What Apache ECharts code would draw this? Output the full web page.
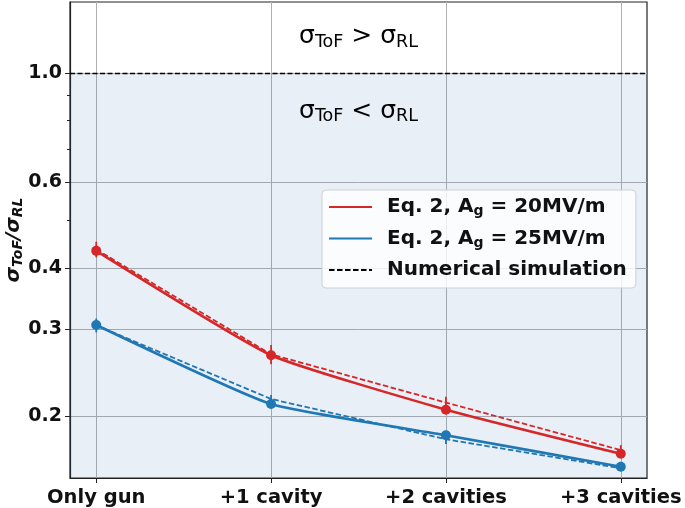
<!DOCTYPE html>
<html><head><meta charset="utf-8">
<script src="https://cdn.jsdelivr.net/npm/echarts@6/dist/echarts.min.js"></script>
<style>html,body{margin:0;padding:0;background:#fff}#c{width:685px;height:508px}</style>
</head><body><div id="c"></div>
<script>
const categories = ['Only gun', '+1 cavity', '+2 cavities', '+3 cavities'];
const eq20 = [0.434, 0.266, 0.206, 0.1675];
const eq25 = [0.3065, 0.2115, 0.1827, 0.1576];
const sim20 = [0.437, 0.267, 0.213, 0.1704];
const sim20Err = [0.016, 0.012, 0.006, 0.004];
const sim25 = [0.306, 0.2166, 0.1793, 0.1565];
const sim25Err = [0.010, 0.004, 0.004, 0.002];
const yTicks = [0.2, 0.3, 0.4, 0.6, 1.0];
const yMinorTicks = [0.5, 0.7, 0.8, 0.9];
const xTicks = [0, 1, 2, 3];
const threshold = 1.0;
const yMin = 0.1495, yMax = 1.395;

const RED = '#d62728', BLUE = '#1f77b4';
const FONT = 'DejaVu Sans';

function pts(vals) { return vals.map((v, i) => [i, v]); }
function errSeries(vals, errs, color) {
  return {
    type: 'custom', silent: true, z: 4,
    data: vals.map((v, i) => [i, v - errs[i], v + errs[i]]),
    encode: { x: 0, y: [1, 2] },
    renderItem(params, api) {
      const a = api.coord([api.value(0), api.value(1)]);
      const b = api.coord([api.value(0), api.value(2)]);
      return { type: 'line', shape: { x1: a[0], y1: a[1], x2: b[0], y2: b[1] },
        style: { stroke: color, lineWidth: 1.8 } };
    }
  };
}
const legendText = {
  L20: '{b|Eq. 2, A}{s|g}{b| = 20MV/m}',
  L25: '{b|Eq. 2, A}{s|g}{b| = 25MV/m}',
  LNum: '{b|Numerical simulation}'
};
const annRich = {
  s: { fontFamily: FONT, fontSize: 25, color: '#000', textBorderWidth: 0 },
  sub: { fontFamily: FONT, fontSize: 17.5, color: '#000', textBorderWidth: 0, padding: [11, 0, 0, 0] }
};
const annotations = [
  { x: 1.5, y: 1.185, text: '{s|σ}{sub|ToF}{s| > σ}{sub|RL}' },
  { x: 1.5, y: 0.835, text: '{s|σ}{sub|ToF}{s| < σ}{sub|RL}' }
];
const hidden = { color: 'rgba(0,0,0,0)', borderWidth: 0 };

const chart = echarts.init(document.getElementById('c'));
chart.setOption({
  animation: false,
  backgroundColor: '#fff',
  grid: { left: 70, right: 38, top: 2, bottom: 30, containLabel: false, outerBoundsMode: 'none',
    show: true, borderColor: '#222', borderWidth: 1.2, backgroundColor: '#fff', z: 0 },
  xAxis: {
    type: 'value', min: -0.15, max: 3.15,
    axisLine: { show: true, onZero: false, lineStyle: { color: '#222', width: 1.2 } },
    axisTick: { show: true, customValues: xTicks, length: 5, lineStyle: { color: '#222' } },
    axisLabel: { customValues: xTicks, formatter: v => categories[Math.round(v)] || '',
      fontFamily: FONT, fontWeight: 'bold', fontSize: 19.5, color: '#111', margin: 10 },
    splitLine: { show: true, lineStyle: { color: '#b0b0b0', width: 1 } }
  },
  yAxis: [{
    type: 'log', logBase: 10, min: yMin, max: yMax,
    name: '{a|σ}{b|ToF}{a|/σ}{b|RL}', nameLocation: 'middle', nameGap: 45, nameRotate: 90,
    nameMoveOverlap: false,
    nameTextStyle: { rich: {
      a: { fontFamily: FONT, fontWeight: 'bold', fontStyle: 'italic', fontSize: 20, color: '#111' },
      b: { fontFamily: FONT, fontWeight: 'bold', fontStyle: 'italic', fontSize: 14, color: '#111', padding: [9, 0, 0, 0] }
    } },
    axisLine: { show: true, onZero: false, lineStyle: { color: '#222', width: 1.2 } },
    axisTick: { show: true, customValues: yTicks, length: 5, lineStyle: { color: '#222' } },
    axisLabel: { customValues: yTicks, formatter: v => Number(v).toFixed(1),
      fontFamily: FONT, fontWeight: 'bold', fontSize: 19, color: '#111', margin: 8 },
    splitLine: { show: true, lineStyle: { color: '#b0b0b0', width: 1 } }
  }, {
    type: 'log', logBase: 10, min: yMin, max: yMax, position: 'left',
    axisLine: { show: false, onZero: false },
    axisTick: { show: true, customValues: yMinorTicks, length: 3, lineStyle: { color: '#222' } },
    axisLabel: { show: false },
    splitLine: { show: false }
  }],
  legend: {
    orient: 'vertical', left: 322, top: 190,
    data: ['L20', 'L25', 'LNum'],
    formatter: n => legendText[n],
    itemWidth: 43, itemHeight: 14, itemGap: 10,
    padding: [7, 9, 8, 6],
    backgroundColor: 'rgba(255,255,255,0.8)', borderColor: '#d0d0d0', borderWidth: 1, borderRadius: 4,
    textStyle: { padding: [0, 0, 0, 10], rich: {
      b: { fontFamily: FONT, fontWeight: 'bold', fontSize: 20, color: '#111' },
      s: { fontFamily: FONT, fontWeight: 'bold', fontSize: 14, color: '#111', padding: [9, 0, 0, 0] }
    } }
  },
  series: [
    { name: 'bg', type: 'line', data: [], silent: true, z: 1,
      markArea: { silent: true, itemStyle: { color: 'rgba(31,100,180,0.1)' },
        data: [[{ yAxis: yMin }, { yAxis: threshold }]] },
      markLine: { silent: true, symbol: 'none', label: { show: false },
        lineStyle: { color: '#000', type: [5, 2.5], width: 1.3 },
        data: [{ yAxis: threshold }] } },
    { name: 'ann', type: 'scatter', silent: true, z: 6, symbolSize: 1,
      itemStyle: hidden,
      data: annotations.map(a => ({ value: [a.x, a.y],
        label: { show: true, position: 'inside', color: '#000', textBorderWidth: 0, opacity: 1,
          formatter: a.text, rich: annRich } })) },
    { name: 's20', type: 'line', data: pts(sim20), z: 3, symbol: 'none',
      lineStyle: { color: RED, width: 1.8, type: [5.5, 2.5] } },
    { name: 's25', type: 'line', data: pts(sim25), z: 3, symbol: 'none',
      lineStyle: { color: BLUE, width: 1.8, type: [5.5, 2.5] } },
    errSeries(sim20, sim20Err, RED),
    errSeries(sim25, sim25Err, BLUE),
    { name: 'e20', type: 'line', data: pts(eq20), z: 5, smooth: 0.15, symbol: 'circle', symbolSize: 10,
      itemStyle: { color: RED }, lineStyle: { color: RED, width: 2.6 } },
    { name: 'e25', type: 'line', data: pts(eq25), z: 5, smooth: 0.15, symbol: 'circle', symbolSize: 10,
      itemStyle: { color: BLUE }, lineStyle: { color: BLUE, width: 2.6 } },
    { name: 'L20', type: 'line', data: [], symbol: 'none', itemStyle: hidden, lineStyle: { color: RED, width: 2.6 } },
    { name: 'L25', type: 'line', data: [], symbol: 'none', itemStyle: hidden, lineStyle: { color: BLUE, width: 2.6 } },
    { name: 'LNum', type: 'line', data: [], symbol: 'none', itemStyle: hidden, lineStyle: { color: '#000', width: 2, type: [5.5, 2.5] } }
  ]
});
</script></body></html>
